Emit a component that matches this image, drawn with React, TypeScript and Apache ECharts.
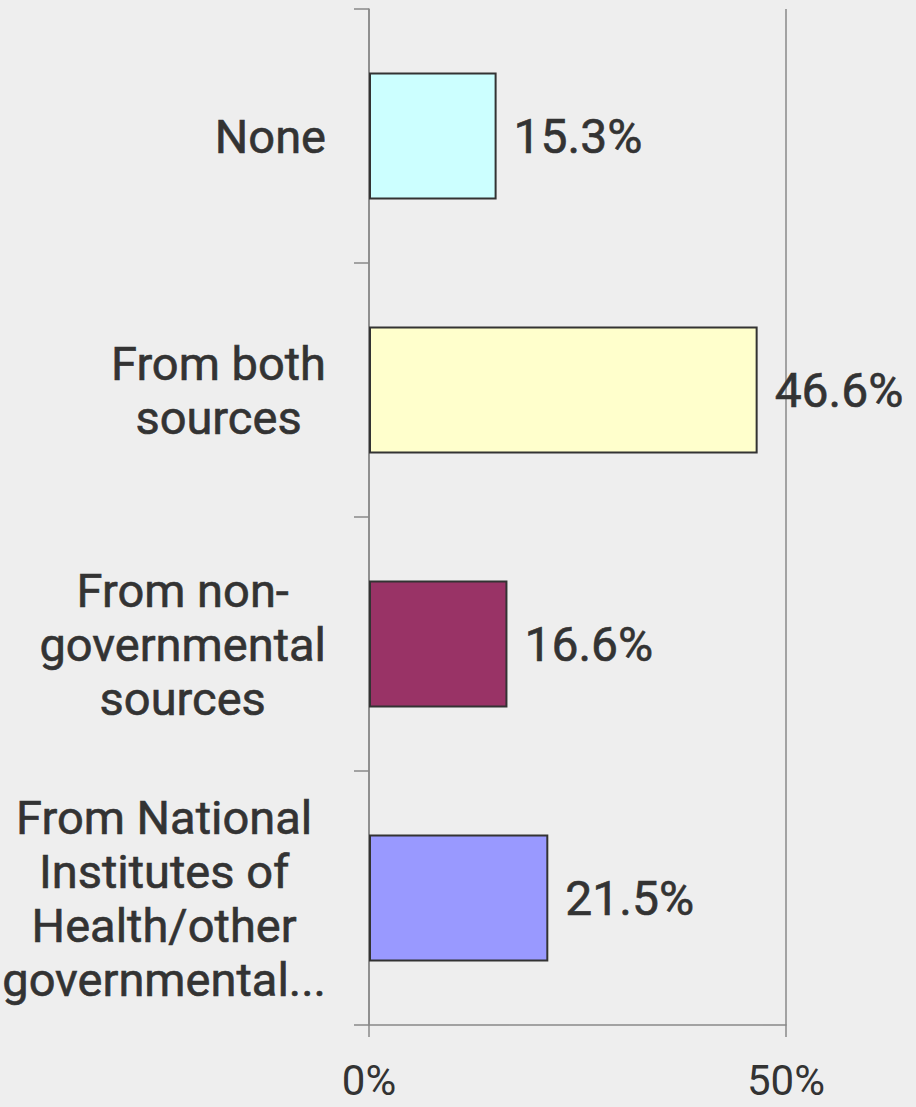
import React, { useEffect, useRef } from "react";
import * as echarts from "echarts";

const categories = [
  "None",
  "From both\nsources",
  "From non-\ngovernmental\nsources",
  "From National\nInstitutes of\nHealth/other\ngovernmental...",
];
const values = [15.3, 46.6, 16.6, 21.5];
const barColors = ["#ccffff", "#ffffcc", "#993366", "#9999ff"];
const xTicks = [0, 50];

export default function App() {
  const ref = useRef<HTMLDivElement>(null);
  useEffect(() => {
    document.body.style.margin = "0";
    const chart = echarts.init(ref.current!, null, { renderer: "svg" });
    const font = "Roboto, 'Liberation Sans', Arial, sans-serif";
    const txt = {
      color: "#333333",
      fontFamily: font,
      textBorderColor: "#333333",
      textBorderWidth: 0.6,
    };
    chart.setOption({
      animation: false,
      backgroundColor: "#eeeeee",
      grid: {
        left: 369,
        right: 130,
        top: 9,
        bottom: 82,
        containLabel: false,
        outerBoundsMode: "none",
      },
      xAxis: {
        type: "value",
        min: xTicks[0],
        max: xTicks[xTicks.length - 1],
        interval: 50,
        axisLine: { show: true, lineStyle: { color: "#888888", width: 1.5 } },
        axisTick: { show: true, length: 12, lineStyle: { color: "#888888", width: 1.5 } },
        splitLine: { show: true, lineStyle: { color: "#888888", width: 1.5 } },
        axisLabel: {
          formatter: "{value}%",
          fontSize: 42,
          lineHeight: 34,
          margin: 38,
          color: "#333333",
          fontFamily: font,
        },
      },
      yAxis: {
        type: "category",
        inverse: true,
        data: categories,
        axisLine: { show: true, lineStyle: { color: "#888888", width: 1.5 } },
        axisTick: { show: true, length: 15, lineStyle: { color: "#888888", width: 1.5 } },
        axisLabel: {
          margin: 43,
          align: "right",
          fontSize: 47,
          lineHeight: 54,
          ...txt,
          formatter: (v: string) =>
            v
              .split("\n")
              .map((l) => `{c|${l}}`)
              .join("\n"),
          rich: {
            c: {
              align: "center",
              fontSize: 47,
              lineHeight: 54,
              ...txt,
            },
          },
        },
      },
      series: [
        {
          type: "bar",
          data: values.map((v, i) => ({
            value: v,
            itemStyle: { color: barColors[i] },
          })),
          barCategoryGap: "50%",
          itemStyle: { borderColor: "#333333", borderWidth: 2 },
          label: {
            show: true,
            position: "right",
            distance: 17,
            formatter: (p: any) => `${p.value.toFixed(1)}%`,
            fontSize: 48,
            ...txt,
          },
        },
      ],
    });
    return () => chart.dispose();
  }, []);
  return <div ref={ref} style={{ width: 916, height: 1107 }} />;
}
